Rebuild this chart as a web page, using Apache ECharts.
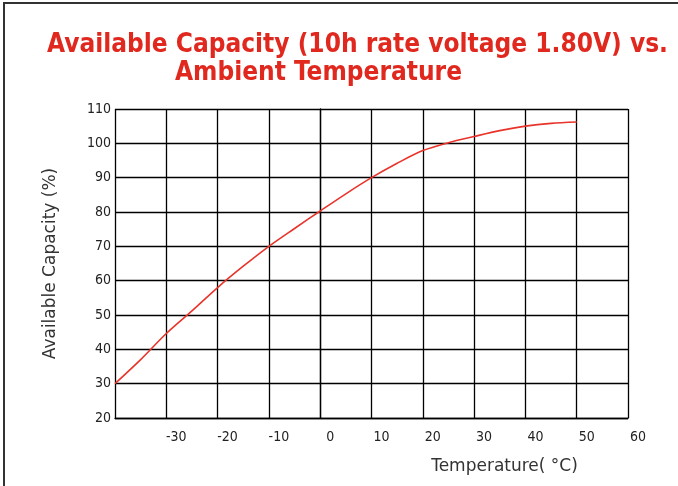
<!DOCTYPE html>
<html>
<head>
<meta charset="utf-8">
<script src="https://cdn.jsdelivr.net/npm/echarts@6/dist/echarts.min.js"></script>
<style>html,body{margin:0;padding:0;background:#fff;}#c{width:678px;height:486px;}</style>
</head>
<body>
<div id="c"></div>
<script>
const temperatures = [-40, -35, -30, -25, -20, -15, -10, -5, 0, 5, 10, 15, 20, 25, 30, 35, 40, 45, 50];
const capacities = [30, 37, 44.6, 51.2, 58, 64.2, 70, 75.2, 80.3, 85.3, 90, 94.2, 97.9, 100.2, 102, 103.7, 105, 105.8, 106.2];
const titleLine1 = 'Available Capacity (10h rate voltage 1.80V) vs.';
const titleLine2 = 'Ambient Temperature';
const xName = 'Temperature( \u00B0C)';
const yName = 'Available Capacity (%)';

const chart = echarts.init(document.getElementById('c'), null, {renderer: 'canvas'});
const labelFont = {fontFamily: 'DejaVu Sans Condensed', fontSize: 14, color: '#222'};
const titleFont = {fontFamily: 'DejaVu Sans Condensed', fontWeight: 'bold', fontSize: 26, color: '#e0281e'};
chart.setOption({
  animation: false,
  backgroundColor: '#fff',
  title: [
    {text: titleLine1, left: 47, top: 32, padding: 0, textStyle: titleFont},
    {text: titleLine2, left: 175, top: 60, padding: 0, textStyle: titleFont}
  ],
  graphic: [
    {type: 'polyline', shape: {points: [[4, 486], [4, 3], [678, 3]]}, style: {stroke: '#333', lineWidth: 2, fill: null}}
  ],
  grid: {left: 115, top: 109, right: 50, bottom: 68, containLabel: false},
  xAxis: {
    type: 'value', min: -40, max: 60, interval: 10,
    name: xName, nameLocation: 'middle', nameGap: 40,
    nameTextStyle: {fontFamily: 'DejaVu Sans', fontSize: 17, color: '#333', padding: [0, 0, 0, 266]},
    axisLine: {show: true, lineStyle: {color: '#000', width: 1.3}},
    axisTick: {show: false},
    axisLabel: Object.assign({margin: 12, padding: [0, 0, 0, 20], formatter: v => v === -40 ? '' : String(v)}, labelFont),
    splitLine: {show: true, lineStyle: {color: '#000', width: 1.3}}
  },
  yAxis: {
    type: 'value', min: 20, max: 110, interval: 10,
    name: yName, nameLocation: 'middle', nameGap: 56,
    nameTextStyle: {fontFamily: 'DejaVu Sans', fontSize: 17, color: '#333'},
    axisLine: {show: true, lineStyle: {color: '#000', width: 1.3}},
    axisTick: {show: false},
    axisLabel: Object.assign({margin: 4}, labelFont),
    splitLine: {show: true, lineStyle: {color: '#000', width: 1.3}}
  },
  series: [{
    type: 'line',
    data: temperatures.map((t, i) => [t, capacities[i]]),
    smooth: 0.3,
    showSymbol: false,
    lineStyle: {color: '#e8342a', width: 1.6}
  }]
});
</script>
</body>
</html>
